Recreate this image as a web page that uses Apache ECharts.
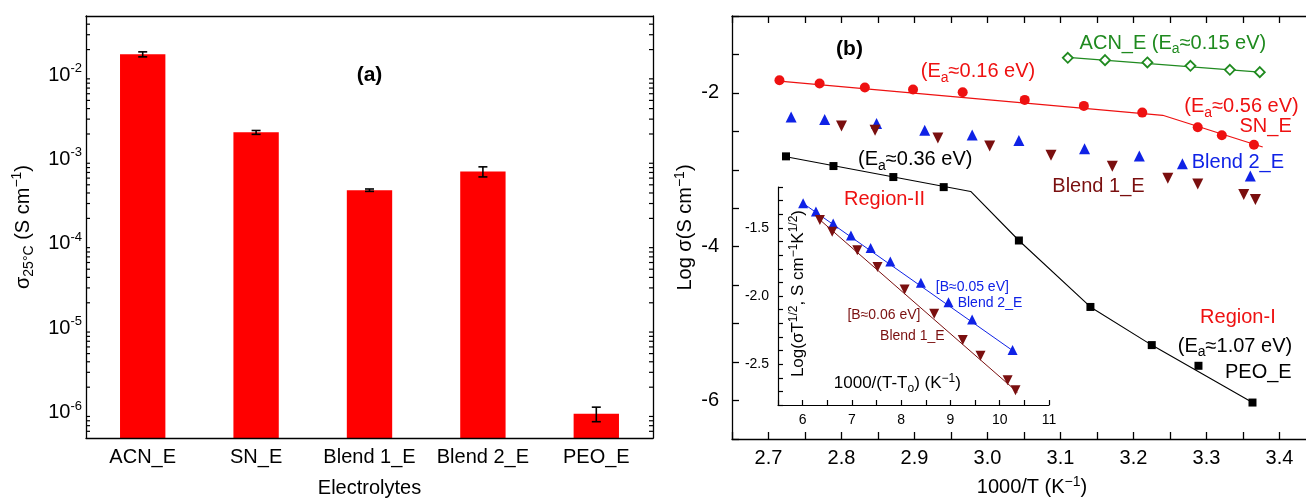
<!DOCTYPE html>
<html>
<head>
<meta charset="utf-8">
<title>Ionic conductivity</title>
<script src="https://cdn.jsdelivr.net/npm/echarts@6/dist/echarts.min.js"></script>
<style>
  html, body { margin: 0; padding: 0; background: #fff; }
  #chart { width: 1306px; height: 499px; }
</style>
</head>
<body>
<div id="chart"></div>
<script>
// (a) conductivity at 25 °C
const electrolytes = ['ACN_E', 'SN_E', 'Blend 1_E', 'Blend 2_E', 'PEO_E'];
const sigma25 = [1.76e-2, 2.09e-3, 4.32e-4, 7.18e-4, 9.7e-7];
const sigma25Err = [1.2e-3, 1.1e-4, 1.4e-5, 9.8e-5, 1.9e-7];

// (b) log sigma vs 1000/T
const acnX = [3.110, 3.161, 3.219, 3.278, 3.332, 3.373];
const acnY = [-1.544, -1.574, -1.604, -1.648, -1.700, -1.730];
const acnFitX = [3.110, 3.373];
const acnFitY = [-1.539, -1.730];

const snX = [2.715, 2.770, 2.832, 2.898, 2.966, 3.051, 3.132, 3.212, 3.288, 3.321, 3.365];
const snY = [-1.835, -1.878, -1.930, -1.956, -1.991, -2.091, -2.169, -2.256, -2.447, -2.551, -2.673];
const snFitX = [2.715, 3.240, 3.377];
const snFitY = [-1.848, -2.291, -2.703];

const blend2X = [2.731, 2.777, 2.848, 2.914, 2.979, 3.043, 3.133, 3.208, 3.267, 3.360];
const blend2Y = [-2.313, -2.347, -2.399, -2.486, -2.547, -2.620, -2.725, -2.821, -2.920, -3.081];

const blend1X = [2.800, 2.846, 2.932, 3.003, 3.087, 3.171, 3.247, 3.288, 3.351, 3.367];
const blend1Y = [-2.430, -2.486, -2.586, -2.691, -2.812, -2.955, -3.111, -3.186, -3.320, -3.385];

const peoX = [2.724, 2.789, 2.871, 2.940, 3.043, 3.141, 3.225, 3.289, 3.363];
const peoY = [-2.825, -2.951, -3.094, -3.225, -3.919, -4.783, -5.279, -5.548, -6.026];
const peoFitX = [2.724, 2.977, 3.043, 3.141, 3.225, 3.363];
const peoFitY = [-2.830, -3.281, -3.919, -4.783, -5.279, -6.026];

// inset: VTF plot, log(sigma T^1/2) vs 1000/(T-To)
const vtf2X = [6.01, 6.27, 6.62, 6.98, 7.38, 7.78, 8.40, 8.96, 9.44, 10.26];
const vtf2Y = [-1.320, -1.379, -1.468, -1.556, -1.647, -1.746, -1.903, -2.046, -2.173, -2.397];
const vtf2FitX = [6.01, 10.26];
const vtf2FitY = [-1.32, -2.40];

const vtf1X = [6.35, 6.60, 7.11, 7.52, 8.07, 8.67, 9.25, 9.61, 10.16, 10.32];
const vtf1Y = [-1.443, -1.529, -1.664, -1.788, -1.952, -2.131, -2.323, -2.439, -2.618, -2.692];
const vtf1FitX = [6.30, 10.36];
const vtf1FitY = [-1.425, -2.706];

const RED = '#ee1111';
const GREEN = '#1f8a1f';
const BLUE = '#0f22e6';
const WINE = '#7a0f0f';
const FONT = '"Liberation Sans", Arial, sans-serif';

const SIGMA_MIN = 5e-7;
const SIGMA_MAX = 0.05;

// log minor ticks (2..9 x 10^n) inside the sigma axis range
const logMinorTicks = [];
for (let n = -7; n <= -2; n++) {
  for (let k = 2; k <= 9; k++) {
    const v = k * Math.pow(10, n);
    if (v > SIGMA_MIN && v < SIGMA_MAX) logMinorTicks.push(v);
  }
}

// text annotations (data coords of their centres)
const barNotes = [
  { x: 2, y: 0.01, text: '(a)', color: '#000', size: 21, bold: true }
];
const mainNotes = [
  { x: 2.811, y: -1.435, text: '(b)', color: '#000', size: 21, bold: true },
  { x: 3.254, y: -1.356, text: 'ACN_E (E{sub|a}≈0.15 eV)', color: GREEN, size: 20 },
  { x: 2.987, y: -1.726, text: '(E{sub|a}≈0.16 eV)', color: RED, size: 20 },
  { x: 3.348, y: -2.182, text: '(E{sub|a}≈0.56 eV)', color: RED, size: 20 },
  { x: 3.381, y: -2.443, text: 'SN_E', color: RED, size: 20 },
  { x: 3.343, y: -2.899, text: 'Blend 2_E', color: BLUE, size: 20 },
  { x: 3.152, y: -3.216, text: 'Blend 1_E', color: WINE, size: 20 },
  { x: 2.901, y: -2.868, text: '(E{sub|a}≈0.36 eV)', color: '#000', size: 20 },
  { x: 2.859, y: -3.385, text: 'Region-II', color: RED, size: 20 },
  { x: 3.343, y: -4.926, text: 'Region-I', color: RED, size: 20 },
  { x: 3.339, y: -5.296, text: '(E{sub|a}≈1.07 eV)', color: '#000', size: 20 },
  { x: 3.371, y: -5.635, text: 'PEO_E', color: '#000', size: 20 }
];
const insetNotes = [
  { x: 9.444, y: -1.935, text: '[B≈0.05 eV]', color: BLUE, size: 14 },
  { x: 9.802, y: -2.053, text: 'Blend 2_E', color: BLUE, size: 14 },
  { x: 7.650, y: -2.144, text: '[B≈0.06 eV]', color: WINE, size: 14 },
  { x: 8.227, y: -2.296, text: 'Blend 1_E', color: WINE, size: 14 },
  { x: 7.922, y: -2.640, text: '1000/(T-T{sub|o}) (K{sup|−1})', color: '#000', size: 17 },
  { x: 5.919, y: -1.982, text: 'Log(σT{sup|1/2}, S cm{sup|−1}K{sup|1/2})', color: '#000', size: 17, rotate: 90 }
];

function richFor(size, color) {
  const s = Math.round(size * 0.68);
  return {
    sub: { fontSize: s, color, fontFamily: FONT, verticalAlign: 'bottom', lineHeight: s },
    sup: { fontSize: s, color, fontFamily: FONT, verticalAlign: 'top', lineHeight: s }
  };
}

function zip(xs, ys) {
  return xs.map((x, i) => [x, ys[i]]);
}

function noteSeries(notes, xi, yi) {
  return {
    type: 'scatter', xAxisIndex: xi, yAxisIndex: yi, silent: true, z: 10,
    symbol: 'circle', symbolSize: 1, itemStyle: { color: 'transparent', opacity: 1 },
    data: notes.map(n => ({
      value: [n.x, n.y],
      label: {
        show: true, position: 'inside', formatter: () => n.text,
        color: n.color, fontSize: n.size, fontFamily: FONT, opacity: 1,
        fontWeight: n.bold ? 'bold' : 'normal',
        lineHeight: Math.round(n.size * 1.3), rotate: n.rotate || 0,
        rich: richFor(n.size, n.color)
      }
    }))
  };
}

function points(xs, ys, xi, yi, symbol, size, itemStyle, rotate) {
  return {
    type: 'scatter', xAxisIndex: xi, yAxisIndex: yi, data: zip(xs, ys),
    symbol, symbolSize: size, symbolRotate: rotate || 0, z: 4,
    itemStyle: Object.assign({ opacity: 1 }, itemStyle)
  };
}

function fitLine(xs, ys, xi, yi, color, width) {
  return {
    type: 'line', xAxisIndex: xi, yAxisIndex: yi, data: zip(xs, ys), z: 3,
    symbol: 'none', lineStyle: { color, width }
  };
}

const axisLine = { show: true, lineStyle: { color: '#000', width: 1.3 } };
const tickStyle = { color: '#000', width: 1.3 };

function tenth(v) {
  return Math.abs(v * 10 - Math.round(v * 10)) < 1e-6;
}

const chart = echarts.init(document.getElementById('chart'));

chart.setOption({
  animation: false,
  backgroundColor: '#fff',
  textStyle: { fontFamily: FONT },
  grid: [
    { left: 86, top: 16, width: 567, height: 422, outerBoundsMode: 'none' },
    // frame of (b) runs past the right edge of the picture
    { left: 732, top: 16, width: 584, height: 423, outerBoundsMode: 'none' },
    { left: 778, top: 187, width: 271, height: 218, outerBoundsMode: 'none' }
  ],
  xAxis: [
    {
      type: 'category', gridIndex: 0, data: electrolytes, position: 'bottom', z: 5,
      axisLine, axisTick: { inside: true, alignWithLabel: true, length: 6, lineStyle: tickStyle },
      axisLabel: { interval: 0, margin: 9, fontSize: 20, color: '#000' },
      name: 'Electrolytes', nameLocation: 'middle', nameGap: 40,
      nameTextStyle: { fontSize: 20, color: '#000' }
    },
    {
      type: 'category', gridIndex: 0, data: electrolytes, position: 'top', z: 5,
      axisLine, axisTick: { inside: true, alignWithLabel: true, length: 7, lineStyle: tickStyle },
      axisLabel: { show: false }
    },
    {
      type: 'value', gridIndex: 1, min: 2.65, max: 3.45, interval: 0.05, position: 'bottom',
      axisLine, axisTick: { inside: true, length: 7, lineStyle: tickStyle },
      splitLine: { show: false },
      axisLabel: { margin: 9, fontSize: 20, color: '#000', formatter: v => tenth(v) ? v.toFixed(1) : '' },
      name: '1000/T (K{sup|−1})', nameLocation: 'middle', nameGap: 36,
      nameTextStyle: { fontSize: 20, color: '#000', lineHeight: 24, padding: [0, 0, 0, 16], rich: richFor(20, '#000') }
    },
    {
      type: 'value', gridIndex: 1, min: 2.65, max: 3.45, interval: 0.05, position: 'top',
      axisLine, axisTick: { inside: true, length: 7, lineStyle: tickStyle },
      splitLine: { show: false }, axisLabel: { show: false }
    },
    {
      type: 'value', gridIndex: 2, min: 5.5, max: 11, interval: 0.5,
      axisLine: { show: true, lineStyle: { color: '#000', width: 1.2 } },
      axisTick: { inside: true, length: 5, lineStyle: { color: '#000', width: 1.2 } },
      splitLine: { show: false },
      axisLabel: { margin: 8, fontSize: 14, color: '#000', formatter: v => Number.isInteger(v) ? String(v) : '' }
    }
  ],
  yAxis: [
    {
      type: 'log', logBase: 10, gridIndex: 0, min: SIGMA_MIN, max: SIGMA_MAX, z: 5,
      axisLine, axisTick: { inside: true, length: 8, lineStyle: tickStyle },
      splitLine: { show: false },
      axisLabel: {
        margin: 4, fontSize: 20, color: '#000', lineHeight: 26,
        rich: { s: { fontSize: 13, color: '#000', verticalAlign: 'top', lineHeight: 14 } },
        formatter: v => {
          const e = Math.log10(v);
          if (Math.abs(e - Math.round(e)) > 1e-6) return '';
          return '10{s|' + Math.round(e) + '}';
        }
      },
      name: 'σ{sub|25°C} (S cm{sup|−1})', nameLocation: 'middle', nameGap: 50, nameRotate: 90,
      nameTextStyle: { fontSize: 20, color: '#000', lineHeight: 26, rich: richFor(20, '#000') }
    },
    {
      type: 'log', logBase: 10, gridIndex: 0, min: SIGMA_MIN, max: SIGMA_MAX, position: 'right', z: 5,
      axisLine, axisTick: { inside: true, length: 8, lineStyle: tickStyle },
      splitLine: { show: false }, axisLabel: { show: false }
    },
    {
      type: 'value', gridIndex: 1, min: -6.5, max: -1, interval: 0.5,
      axisLine, axisTick: { inside: true, length: 7, lineStyle: tickStyle },
      splitLine: { show: false },
      axisLabel: { margin: 13, fontSize: 20, color: '#000', formatter: v => (Number.isInteger(v) && v % 2 === 0) ? String(v) : '' },
      name: 'Log σ(S cm{sup|−1})', nameLocation: 'middle', nameGap: 31, nameRotate: 90,
      nameTextStyle: { fontSize: 20, color: '#000', lineHeight: 24, rich: richFor(20, '#000') }
    },
    {
      type: 'value', gridIndex: 2, min: -2.8, max: -1.2, interval: 0.1,
      axisLine: { show: true, lineStyle: { color: '#000', width: 1.2 } },
      axisTick: { inside: true, length: 5, lineStyle: { color: '#000', width: 1.2 } },
      splitLine: { show: false },
      axisLabel: { margin: 9, fontSize: 14, color: '#000', formatter: v => Math.abs(v * 2 - Math.round(v * 2)) < 1e-6 ? v.toFixed(1) : '' }
    }
  ],
  series: [
    {
      type: 'custom', xAxisIndex: 0, yAxisIndex: 0, z: 2,
      data: electrolytes.map((name, i) => [i, sigma25[i], sigma25[i] - sigma25Err[i], sigma25[i] + sigma25Err[i]]),
      encode: { x: 0, y: [1, 2, 3] },
      renderItem(params, api) {
        const i = api.value(0);
        const top = api.coord([i, api.value(1)]);
        const lo = api.coord([i, api.value(2)]);
        const hi = api.coord([i, api.value(3)]);
        const base = params.coordSys.y + params.coordSys.height;
        const bw = params.coordSys.width / electrolytes.length * 0.4;
        const cap = 4.5;
        const ls = { stroke: '#000', lineWidth: 1.6 };
        return {
          type: 'group',
          children: [
            { type: 'rect', shape: { x: top[0] - bw / 2, y: top[1], width: bw, height: base - top[1] }, style: { fill: '#ff0000' } },
            { type: 'line', shape: { x1: hi[0], y1: hi[1], x2: lo[0], y2: lo[1] }, style: ls },
            { type: 'line', shape: { x1: hi[0] - cap, y1: hi[1], x2: hi[0] + cap, y2: hi[1] }, style: ls },
            { type: 'line', shape: { x1: lo[0] - cap, y1: lo[1], x2: lo[0] + cap, y2: lo[1] }, style: ls }
          ]
        };
      }
    },
    {
      // minor ticks of the log axis, on both the left and right frame edges
      type: 'custom', xAxisIndex: 0, yAxisIndex: 0, z: 6, silent: true,
      data: logMinorTicks.map(v => [0, v]),
      encode: { y: 1 },
      renderItem(params, api) {
        const y = api.coord([0, api.value(1)])[1];
        const left = params.coordSys.x;
        const right = left + params.coordSys.width;
        const ls = { stroke: '#000', lineWidth: 1.2 };
        return {
          type: 'group',
          children: [
            { type: 'line', shape: { x1: left, y1: y, x2: left + 4, y2: y }, style: ls },
            { type: 'line', shape: { x1: right, y1: y, x2: right - 4, y2: y }, style: ls }
          ]
        };
      }
    },
    noteSeries(barNotes, 0, 0),

    // (b) fit lines
    fitLine(acnFitX, acnFitY, 2, 2, GREEN, 1.2),
    fitLine(snFitX, snFitY, 2, 2, RED, 1.2),
    fitLine(peoFitX, peoFitY, 2, 2, '#000', 1.1),
    // (b) measured points
    points(acnX, acnY, 2, 2, 'diamond', 10, { color: '#fff', borderColor: GREEN, borderWidth: 1.8 }),
    points(snX, snY, 2, 2, 'circle', 10, { color: RED }),
    points(blend2X, blend2Y, 2, 2, 'triangle', 11, { color: BLUE }),
    points(blend1X, blend1Y, 2, 2, 'triangle', 11, { color: WINE }, 180),
    points(peoX, peoY, 2, 2, 'rect', 8, { color: '#000' }),
    noteSeries(mainNotes, 2, 2),

    // inset
    fitLine(vtf2FitX, vtf2FitY, 4, 3, BLUE, 1),
    fitLine(vtf1FitX, vtf1FitY, 4, 3, WINE, 1),
    points(vtf2X, vtf2Y, 4, 3, 'triangle', 10, { color: BLUE }),
    points(vtf1X, vtf1Y, 4, 3, 'triangle', 10, { color: WINE }, 180),
    noteSeries(insetNotes, 4, 3)
  ]
});
</script>
</body>
</html>
